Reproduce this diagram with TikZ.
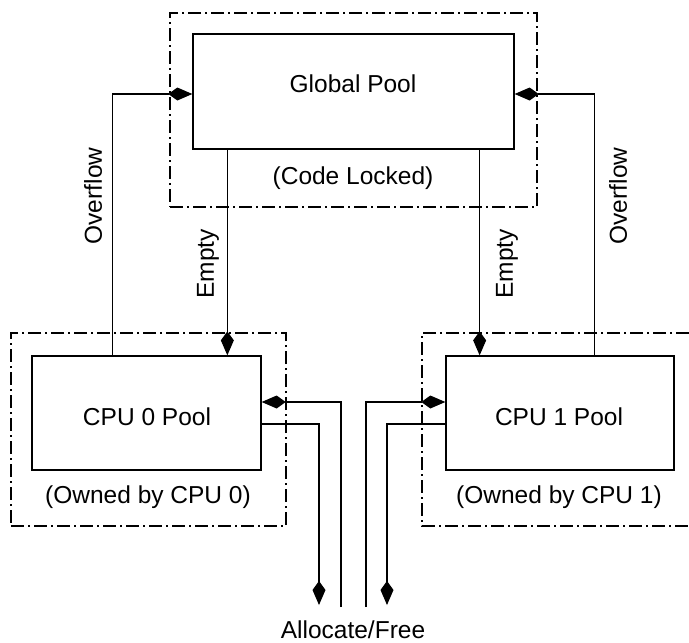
\documentclass[tikz,border=0pt]{standalone}
\usepackage{fontspec}
\setmainfont{Liberation Sans}
\usetikzlibrary{arrows.meta}
\begin{document}
\begin{tikzpicture}[x=1pt,y=-1pt,
  line width=1.3pt,
  font=\fontsize{24.5}{29}\selectfont,
  poolbox/.style={draw,rectangle,inner sep=0pt},
  ownerbox/.style={draw,rectangle,inner sep=0pt,dash pattern=on 13pt off 4pt on 2pt off 4pt},
  lbl/.style={inner sep=0pt,anchor=center},
  arr/.style={-{Kite[length=24pt,width=13pt,inset=9pt]}},
]
\useasboundingbox (0,0) rectangle (689,643);

% Global pool
\node[ownerbox,minimum width=367pt,minimum height=194pt] (gpd) at (353.5,110) {};
\node[poolbox,minimum width=321pt,minimum height=115pt] (gp) at (353.5,91.5) {};
\node[lbl] (gpt) at (353,84) {Global Pool};
\node[lbl] (gpl) at (353,178) {(Code Locked)};

% CPU 0 pool
\node[ownerbox,minimum width=275pt,minimum height=193pt] (c0d) at (148.5,429.5) {};
\node[poolbox,minimum width=229pt,minimum height=114pt] (c0) at (146.5,413) {};
\node[lbl] (c0t) at (147,417) {CPU 0 Pool};
\node[lbl] (c0l) at (148,497) {(Owned by CPU 0)};

% CPU 1 pool
\coordinate (c1da) at (689,333);
\coordinate (c1db) at (422,333);
\coordinate (c1dc) at (422,526);
\coordinate (c1dd) at (689,526);
\draw[dash pattern=on 13pt off 4pt on 2pt off 4pt] (c1da) -- (c1db) -- (c1dc) -- (c1dd);
\node[poolbox,minimum width=228pt,minimum height=114pt] (c1) at (560,413) {};
\node[lbl] (c1t) at (559,417) {CPU 1 Pool};
\node[lbl] (c1l) at (559,497) {(Owned by CPU 1)};

% Overflow
\draw[arr] ([xshift=81pt]c0.north west) |- ([yshift=-2.5pt]gp.west);
\draw[arr] ([xshift=-80pt]c1.north east) |- ([yshift=-2.5pt]gp.east);
\node[lbl,rotate=90] (ov0) at (93,196) {Overflow};
\node[lbl,rotate=90] (ov1) at (618,196) {Overflow};

% Empty
\draw[arr] ([xshift=35pt]gp.south west) -- ([xshift=35pt]gp.south west |- c0.north);
\draw[arr] ([xshift=-35pt]gp.south east) -- ([xshift=-35pt]gp.south east |- c1.north);
\node[lbl,rotate=90] (em0) at (208,264) {Empty};
\node[lbl,rotate=90] (em1) at (507,264) {Empty};

% Allocate / Free
\coordinate (a0) at (319,605);
\coordinate (b0) at (341,607);
\coordinate (b1) at (366,607);
\coordinate (a1) at (387,605);
\draw[arr] ([yshift=-11pt]c0.east) -| (a0);
\draw[arr] (b0) |- ([yshift=11pt]c0.east);
\draw[arr] (b1) |- ([yshift=11pt]c1.west);
\draw[arr] ([yshift=-11pt]c1.west) -| (a1);
\node[inner sep=0pt,anchor=base] (af) at (353,638) {Allocate/Free};
\end{tikzpicture}
\end{document}
